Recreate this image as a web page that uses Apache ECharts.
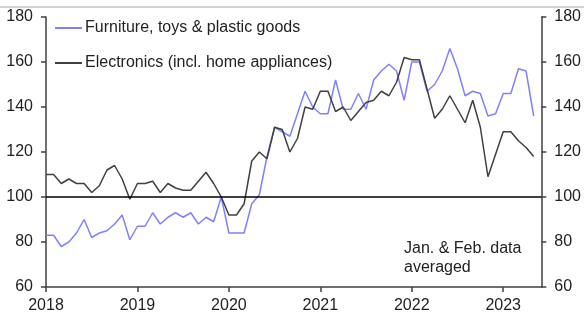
<!DOCTYPE html>
<html>
<head>
<meta charset="utf-8">
<script src="https://cdn.jsdelivr.net/npm/echarts@6/dist/echarts.min.js"></script>
<style>
    html, body { margin: 0; padding: 0; background: #fff; }
    #chart { width: 584px; height: 320px; }
</style>
</head>
<body>
<div id="chart"></div>
<script>
// monthly, Jan 2018 .. May 2023 (index 0 = Jan 2018)
const startYear = 2018
const furniture = [
    83, 83, 78, 80, 84, 90, 82, 84, 85, 88, 92, 81,
    87, 87, 93, 88, 91, 93, 91, 93, 88, 91, 89, 100,
    84, 84, 84, 97, 101, 118, 131, 129, 127, 137, 147, 140,
    137, 137, 152, 139, 139, 146, 139, 152, 156, 159, 156, 143,
    160, 160, 147, 150, 156, 166, 157, 145, 147, 146, 136, 137,
    146, 146, 157, 156, 136
]
const electronics = [
    110, 110, 106, 108, 106, 106, 102, 105, 112, 114, 108, 99,
    106, 106, 107, 102, 106, 104, 103, 103, 107, 111, 106, 100,
    92, 92, 97, 116, 120, 117, 131, 130, 120, 126, 140, 139,
    147, 147, 138, 140, 134, 138, 142, 143, 147, 145, 151, 162,
    161, 161, 148, 135, 139, 145, 139, 133, 143, 131, 109, 119,
    129, 129, 125, 122, 118
]
const seriesNames = ["Furniture, toys & plastic goods", "Electronics (incl. home appliances)"]
const note = "Jan. & Feb. data\naveraged"

const font = "Liberation Sans, Arial, sans-serif"
const axisColor = "#404040"

const toPoints = (arr) => arr.map((v, i) => [i, v])

const yAxisBase = {
    type: "value",
    min: 60,
    max: 180,
    interval: 20,
    splitLine: { show: false },
    axisLine: { show: true, lineStyle: { color: axisColor, width: 1.5 } },
    axisTick: { show: true, length: 5, lineStyle: { color: axisColor, width: 1.5 } },
    axisLabel: { color: "#222", fontSize: 16, fontFamily: font, margin: 13 },
}

const chart = echarts.init(document.getElementById("chart"), null, { renderer: "canvas" })
chart.setOption({
    animation: false,
    grid: { left: 46, right: 41, top: 17, bottom: 33 },
    legend: {
        orient: "vertical",
        left: 50,
        top: 15,
        itemWidth: 27,
        itemHeight: 10,
        itemGap: 19,
        icon: "path://M0,4 L27,4 L27,6 L0,6 Z",
        textStyle: { color: "#222", fontSize: 16, fontFamily: font, padding: [0, 0, 0, -2] },
        data: seriesNames,
    },
    xAxis: {
        type: "value",
        min: 0,
        max: 65,
        interval: 12,
        splitLine: { show: false },
        axisLine: { lineStyle: { color: axisColor, width: 1.5 } },
        axisTick: { show: true, length: 5, lineStyle: { color: axisColor, width: 1.5 } },
        axisLabel: {
            color: "#222",
            fontSize: 16,
            fontFamily: font,
            margin: 11,
            showMaxLabel: false,
            formatter: (v) => (v % 12 === 0 ? String(startYear + v / 12) : ""),
        },
    },
    yAxis: [
        Object.assign({}, yAxisBase, { position: "left" }),
        Object.assign({}, yAxisBase, { position: "right" }),
    ],
    graphic: [
        {
            type: "rect",
            shape: { x: 0, y: 6, width: 584, height: 2 },
            style: { fill: "#d4d4d4" },
            silent: true,
        },
        {
            type: "text",
            left: 404,
            top: 239,
            style: { text: note, fill: "#222", font: "16px " + font, lineHeight: 19 },
        },
    ],
    series: [
        {
            name: seriesNames[0],
            type: "line",
            data: toPoints(furniture),
            symbol: "none",
            lineStyle: { color: "#8080ff", width: 1.5 },
            itemStyle: { color: "#8080ff" },
            z: 3,
        },
        {
            name: seriesNames[1],
            type: "line",
            data: toPoints(electronics),
            symbol: "none",
            lineStyle: { color: "#404040", width: 1.5 },
            itemStyle: { color: "#404040" },
            z: 4,
            markLine: {
                silent: true,
                symbol: "none",
                label: { show: false },
                lineStyle: { color: "#000", width: 1.5, type: "solid" },
                data: [{ yAxis: 100 }],
            },
        },
    ],
})
</script>
</body>
</html>
